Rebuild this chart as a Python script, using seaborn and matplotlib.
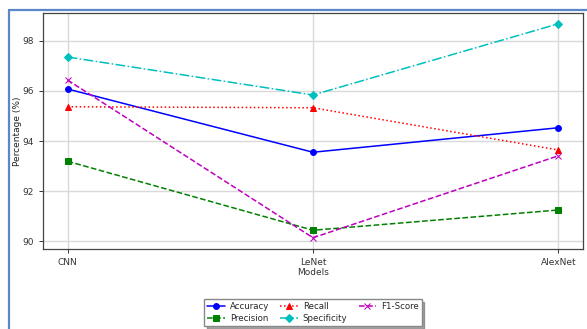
import matplotlib
matplotlib.use("Agg")
import matplotlib.pyplot as plt
from matplotlib.lines import Line2D
import seaborn as sns
import pandas as pd

models = ["CNN", "LeNet", "AlexNet"]
accuracy = [96.08, 93.55, 94.53]
precision = [93.19, 90.43, 91.24]
recall = [95.37, 95.33, 93.64]
specificity = [97.36, 95.84, 98.69]
f1_score = [96.44, 90.13, 93.41]

series = [
    ("Accuracy", accuracy, "b", "-", "o", 4.2),
    ("Precision", precision, "g", "--", "s", 4.0),
    ("Recall", recall, "r", ":", "^", 4.2),
    ("Specificity", specificity, "c", "-.", "D", 3.6),
    ("F1-Score", f1_score, "m", "--", "x", 4.2),
]

sns.set_style("ticks")
plt.rcParams["font.family"] = ["DejaVu Sans"]

fig = plt.figure(figsize=(5.87, 3.29), dpi=100)
ax = fig.add_axes([43 / 587, 1 - 249 / 329, 540 / 587, 236 / 329])

for name, vals, color, ls, mk, ms in series:
    df = pd.DataFrame({"Model": models, "Value": vals})
    sns.lineplot(data=df, x="Model", y="Value", ax=ax, color=color,
                 linestyle=ls, marker=mk, markersize=ms, linewidth=1.1,
                 markeredgecolor=color, label=name, sort=False)

ax.set_xlim(-0.1, 2.1)
ax.set_ylim(89.68, 99.12)
ax.set_yticks([90, 92, 94, 96, 98])
ax.grid(True, color="#d9d9d9", linewidth=1.0)
ax.set_axisbelow(True)
for sp in ax.spines.values():
    sp.set_color("#444444")
    sp.set_linewidth(0.9)
ax.tick_params(labelsize=6.5, colors="#333333", length=3, width=0.7)
ax.set_xlabel("Models", fontsize=6.5, color="#333333", labelpad=1)
ax.set_ylabel("Percentage (%)", fontsize=6.5, color="#222222", labelpad=0.5)

ax.legend(loc="upper center", bbox_to_anchor=(0.5, -0.195), ncol=3,
          fontsize=6.2, frameon=True, fancybox=False, shadow=True,
          edgecolor="#888888", handlelength=2.0, columnspacing=1.3,
          borderpad=0.35, labelspacing=0.3, handletextpad=0.6)

# frame lines around the figure area
border = "#5b87c6"
fig.add_artist(Line2D([9 / 587, 9 / 587], [0, 1 - 10 / 329],
                      transform=fig.transFigure, color=border, lw=1.6))
fig.add_artist(Line2D([9 / 587, 1], [1 - 10 / 329, 1 - 10 / 329],
                      transform=fig.transFigure, color=border, lw=1.6))

fig.savefig("out.png", dpi=100)
